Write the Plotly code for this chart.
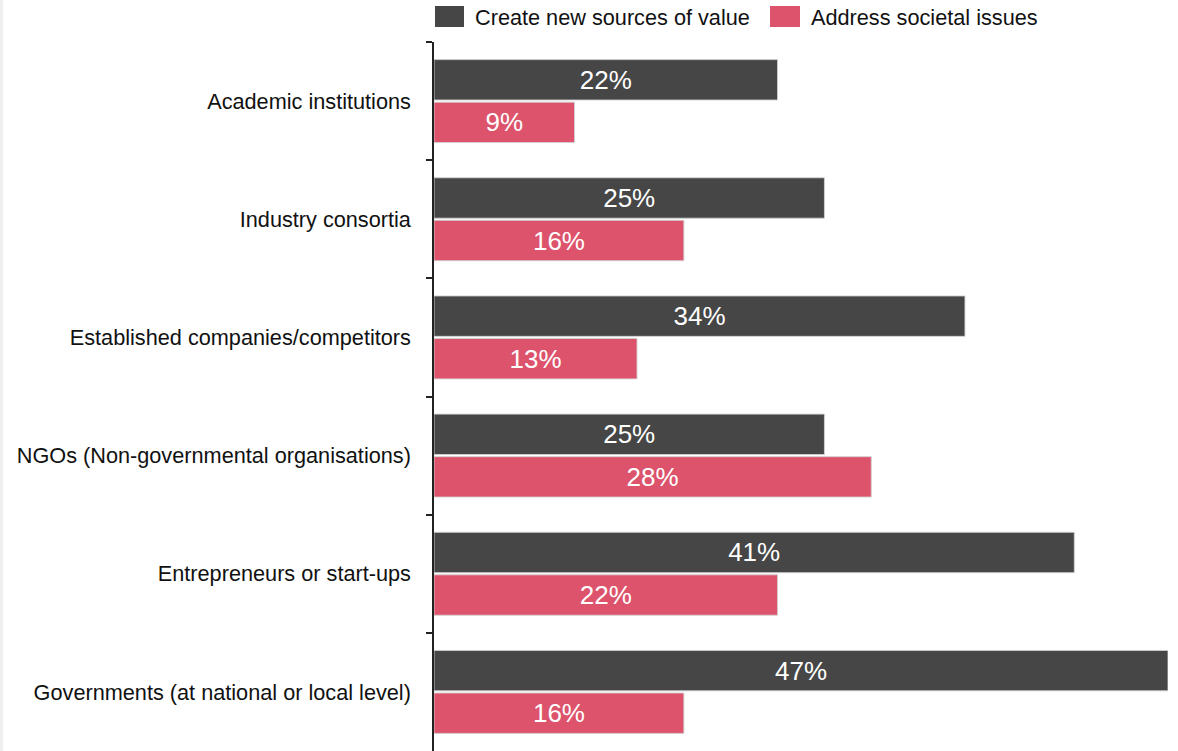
import plotly.graph_objects as go

categories = [
    "Academic institutions",
    "Industry consortia",
    "Established companies/competitors",
    "NGOs (Non-governmental organisations)",
    "Entrepreneurs or start-ups",
    "Governments (at national or local level)",
]
create_value = [22, 25, 34, 25, 41, 47]
societal = [9, 16, 13, 28, 22, 16]
series_names = ["Create new sources of value", "Address societal issues"]
colors = ["#464646", "#dc536b"]

W, H = 1178, 751
L, R, T, B = 434, 10, 42, 0
pw, ph = W - L - R, H - T - B
FONT = "Liberation Sans, Arial"


def px_x(p):
    return (p - L) / pw


def px_y(p):
    return (H - B - p) / ph


fig = go.Figure()
for name, vals, col in zip(series_names, [create_value, societal], colors):
    fig.add_trace(go.Bar(
        y=categories, x=vals, orientation="h", name=name,
        marker=dict(color=col, line=dict(color="rgba(210,210,210,0.9)", width=1)),
        text=[f"{v}%" for v in vals], textposition="inside",
        insidetextanchor="middle",
        textfont=dict(color="white", size=26, family=FONT),
        showlegend=False,
    ))

shapes = [
    dict(type="rect", xref="paper", yref="paper", x0=px_x(0), x1=px_x(3),
         y0=px_y(0), y1=px_y(H), fillcolor="#efefef", line_width=0, layer="below"),
]
annotations = []
leg_sq = [(435, 464, 473), (770, 800, 809)]
for (x0, x1, xt), name, col in zip(leg_sq, series_names, colors):
    shapes.append(dict(type="rect", xref="paper", yref="paper",
                       x0=px_x(x0), x1=px_x(x1), y0=px_y(27), y1=px_y(6),
                       fillcolor=col, line_width=0))
    annotations.append(dict(xref="paper", yref="paper", x=px_x(xt), y=px_y(17),
                            xanchor="left", yanchor="middle", text=name, showarrow=False,
                            font=dict(size=21.7, color="#111", family=FONT)))

fig.update_layout(
    width=W, height=H,
    margin=dict(l=L, r=R, t=T, b=B),
    barmode="group", bargap=0.28, bargroupgap=0.05,
    plot_bgcolor="white", paper_bgcolor="white",
    font=dict(family=FONT, size=21.7, color="#111"),
    shapes=shapes, annotations=annotations,
    xaxis=dict(range=[0, 47], visible=False, fixedrange=True),
    yaxis=dict(autorange="reversed", showline=True, linecolor="#222", linewidth=1.5,
               ticks="outside", tickson="boundaries", ticklen=6, tickcolor="#222",
               tickwidth=1.5, tickfont=dict(size=21.7, color="#111"), showgrid=False,
               ticklabelstandoff=17, fixedrange=True),
)
fig.write_html("out.html", config={"displayModeBar": False},
               post_script="document.body.style.margin='0';")
